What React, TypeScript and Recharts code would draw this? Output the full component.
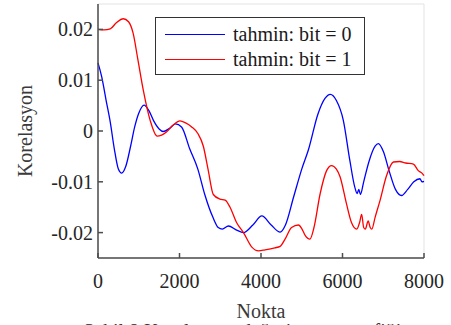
import { LineChart, Line, XAxis, YAxis, CartesianGrid, Legend } from 'recharts';

// sample index of each reading
const bit0X = [0, 90, 200, 300, 400, 500, 580, 680, 800, 900, 1000, 1130, 1250, 1360, 1500, 1600, 1750, 1900, 2050, 2250, 2450, 2620, 2820, 2950, 3050, 3200, 3400, 3570, 3800, 4020, 4250, 4470, 4600, 4800, 5000, 5160, 5400, 5570, 5700, 5850, 6020, 6180, 6300, 6360, 6400, 6440, 6520, 6650, 6800, 6880, 7000, 7150, 7300, 7450, 7600, 7750, 7900, 7950, 8000];
const bit0Y = [0.0134, 0.0107, 0.006, 0.0018, -0.0035, -0.0075, -0.0083, -0.007, -0.003, 0.0008, 0.0035, 0.0051, 0.004, 0.0021, 0.0004, -0.0001, 0.0005, 0.0014, 0.0008, -0.0035, -0.0075, -0.0125, -0.017, -0.019, -0.0193, -0.0187, -0.0195, -0.02, -0.0185, -0.0167, -0.0185, -0.0199, -0.0185, -0.013, -0.0075, -0.0038, 0.0034, 0.0064, 0.0072, 0.006, 0.0021, -0.0058, -0.011, -0.0123, -0.0115, -0.0125, -0.01, -0.006, -0.003, -0.0025, -0.004, -0.008, -0.0115, -0.0127, -0.0115, -0.01, -0.0094, -0.01, -0.0099];

const bit1X = [0, 150, 300, 450, 620, 750, 860, 980, 1110, 1280, 1450, 1560, 1680, 1850, 2010, 2150, 2300, 2450, 2585, 2700, 2830, 2990, 3120, 3240, 3400, 3570, 3770, 3940, 4100, 4340, 4470, 4590, 4750, 4920, 5000, 5080, 5200, 5300, 5450, 5610, 5730, 5850, 5940, 6100, 6220, 6350, 6420, 6470, 6520, 6560, 6630, 6680, 6720, 6800, 6920, 7080, 7250, 7400, 7550, 7740, 7860, 7950, 8000];
const bit1Y = [0.02, 0.0199, 0.0201, 0.0213, 0.0221, 0.0215, 0.0193, 0.014, 0.0081, 0.0021, -0.001, -0.0008, -0.0002, 0.0012, 0.002, 0.0016, 0.0008, -0.0005, -0.003, -0.0075, -0.0125, -0.0134, -0.0136, -0.015, -0.018, -0.02, -0.0228, -0.0236, -0.0234, -0.023, -0.0227, -0.0213, -0.019, -0.0185, -0.0192, -0.0205, -0.0213, -0.019, -0.0124, -0.0078, -0.0068, -0.0075, -0.009, -0.0144, -0.018, -0.0193, -0.018, -0.0164, -0.019, -0.0193, -0.0177, -0.019, -0.0193, -0.017, -0.0137, -0.0088, -0.0061, -0.006, -0.0063, -0.0065, -0.0078, -0.0083, -0.0088];

const xTicks = [0, 2000, 4000, 6000, 8000];
const yTicks = [-0.02, -0.01, 0, 0.01, 0.02];
const seriesNames = ['tahmin: bit = 0', 'tahmin: bit = 1'];
const seriesColors = ['#0000ff', '#ff0000'];

const bit0 = bit0X.map((x, i) => ({ x, y: bit0Y[i] }));
const bit1 = bit1X.map((x, i) => ({ x, y: bit1Y[i] }));

const font = "'Liberation Serif', 'Times New Roman', serif";
const axisColor = '#4d4d4d';
const textColor = '#262626';

function XTick({ x, y, payload }: any) {
  return (
    <text x={x} y={y + 35} textAnchor="middle" fontFamily={font} fontSize={20} fill={textColor}>
      {payload.value}
    </text>
  );
}

function YTick({ x, y, payload }: any) {
  const v = payload.value;
  return (
    <text x={x - 10} y={y + 7} textAnchor="end" fontFamily={font} fontSize={20} fill={textColor}>
      {v === 0 ? '0' : Number(v).toFixed(2)}
    </text>
  );
}

function LegendBox() {
  return (
    <div
      style={{
        width: 210,
        height: 58,
        boxSizing: 'border-box',
        border: '1.5px solid #333',
        background: '#fff',
        position: 'relative',
        fontFamily: font,
        fontSize: 20,
        color: '#1a1a1a',
      }}
    >
      {seriesNames.map((name, i) => (
        <div key={name} style={{ position: 'absolute', left: 9, top: i === 0 ? 3 : 28, height: 26, display: 'flex', alignItems: 'center' }}>
          <span style={{ display: 'inline-block', width: 60, height: 0, borderTop: `1.5px solid ${seriesColors[i]}`, marginRight: 8 }} />
          <span style={{ whiteSpace: 'nowrap' }}>{name}</span>
        </div>
      ))}
    </div>
  );
}

export default function App() {
  return (
    <div style={{ position: 'absolute', left: 0, top: 0, width: 451, height: 325, overflow: 'hidden', background: '#fff', fontFamily: font }}>
      <LineChart width={451} height={325} margin={{ top: 4, right: 27, left: 0, bottom: 0 }} style={{ fontFamily: font }}>
        <CartesianGrid stroke="#e3e3e3" strokeWidth={1} />
        <XAxis
          xAxisId="b"
          dataKey="x"
          type="number"
          domain={[0, 8000]}
          ticks={xTicks}
          height={67}
          stroke={axisColor}
          strokeWidth={1.5}
          tickSize={-5}
          tickMargin={0}
          tick={<XTick />}
          label={{ value: 'Nokta', position: 'insideTop', offset: 46, style: { fill: '#3a3a3a', fontSize: 20, fontFamily: font } }}
        />
        <XAxis xAxisId="t" orientation="top" dataKey="x" type="number" domain={[0, 8000]} ticks={xTicks} height={0} stroke={axisColor} strokeWidth={1.5} tickSize={-5} tick={false} />
        <YAxis
          yAxisId="l"
          type="number"
          domain={[-0.025, 0.025]}
          allowDataOverflow
          ticks={yTicks}
          width={98}
          stroke={axisColor}
          strokeWidth={1.5}
          tickSize={-5}
          tickMargin={0}
          tick={<YTick />}
          label={{ value: 'Korelasyon', angle: -90, position: 'center', dx: -24, style: { fill: '#3a3a3a', fontSize: 20, fontFamily: font } }}
        />
        <YAxis yAxisId="r" orientation="right" type="number" domain={[-0.025, 0.025]} ticks={yTicks} width={0} stroke={axisColor} strokeWidth={1.5} tickSize={-5} tick={false} />
        <Legend
          layout="vertical"
          align="center"
          verticalAlign="middle"
          content={() => <LegendBox />}
          wrapperStyle={{ top: 17, left: 155, width: 210, height: 58 }}
        />
        <Line xAxisId="b" yAxisId="l" data={bit0} dataKey="y" name={seriesNames[0]} stroke={seriesColors[0]} strokeWidth={1.3} dot={false} type="monotone" isAnimationActive={false} />
        <Line xAxisId="b" yAxisId="l" data={bit1} dataKey="y" name={seriesNames[1]} stroke={seriesColors[1]} strokeWidth={1.3} dot={false} type="monotone" isAnimationActive={false} />
      </LineChart>
      <div style={{ position: 'absolute', left: 83, top: 320, fontFamily: font, fontSize: 20, color: '#333', whiteSpace: 'nowrap' }}>
        Şekil 8 Korelasyon değeri sonuç grafiği
      </div>
    </div>
  );
}
